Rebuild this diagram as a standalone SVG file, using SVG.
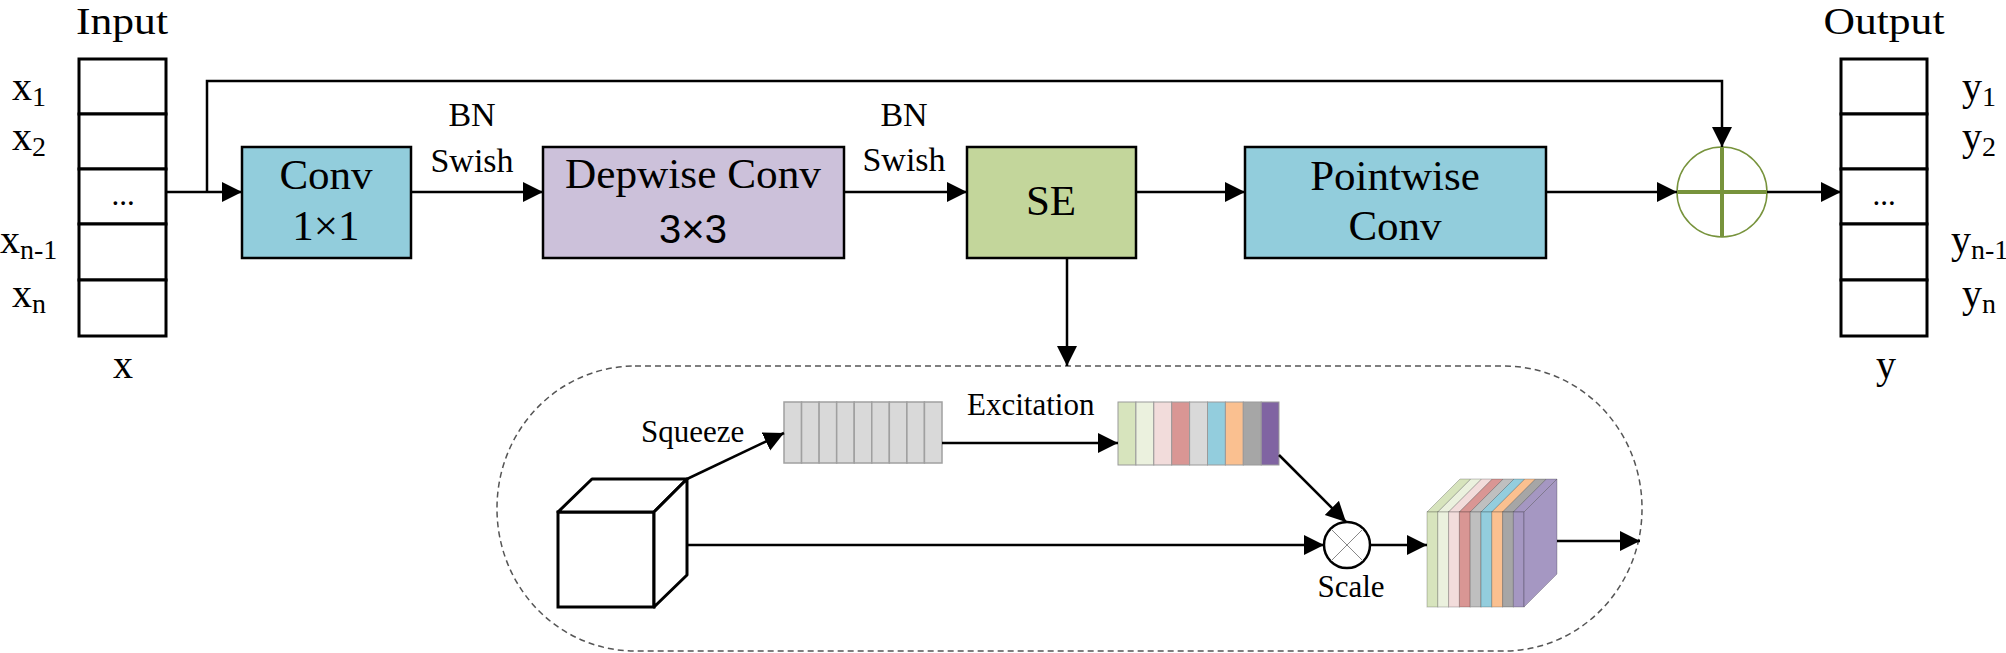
<svg xmlns="http://www.w3.org/2000/svg" width="2006" height="653" viewBox="0 0 2006 653">
<style>
text{font-family:"Liberation Serif","Times New Roman",serif;fill:#000}
.big{font-size:43px}
.top{font-size:38px}
.lbl{font-size:40px}
.sub{font-size:28px}
.mid{font-size:34px}
.sm{font-size:31px}
.box{stroke:#000;stroke-width:2.5}
.cell{fill:#fff;stroke:#000;stroke-width:3}
.ln{fill:none;stroke:#000;stroke-width:2.5}
.gc{fill:#d9d9d9;stroke:#a0a0a0;stroke-width:1.5}
.cc{stroke:#9a9a9a;stroke-width:1}
.sl{stroke:rgba(0,0,0,0.22);stroke-width:1}
</style>
<defs>
<marker id="ah" markerUnits="userSpaceOnUse" markerWidth="22" markerHeight="22" refX="20" refY="10" orient="auto" viewBox="0 0 22 22">
<path d="M0,0 L20,10 L0,20 Z" fill="#000"/>
</marker>
</defs>

<g id="input">
<text class="top" x="122" y="34" text-anchor="middle" textLength="92" lengthAdjust="spacingAndGlyphs">Input</text>
<rect class="cell" x="79" y="59" width="87" height="55"/>
<rect class="cell" x="79" y="114" width="87" height="55"/>
<rect class="cell" x="79" y="169" width="87" height="55"/>
<rect class="cell" x="79" y="224" width="87" height="56"/>
<rect class="cell" x="79" y="280" width="87" height="56"/>
<text class="sm" x="123" y="205" text-anchor="middle">...</text>
<text class="lbl" x="12" y="100">x<tspan class="sub" dy="6">1</tspan></text>
<text class="lbl" x="12" y="150">x<tspan class="sub" dy="6">2</tspan></text>
<text class="lbl" x="0" y="253">x<tspan class="sub" dy="6">n-1</tspan></text>
<text class="lbl" x="12" y="307">x<tspan class="sub" dy="6">n</tspan></text>
<text class="lbl" x="123" y="378" text-anchor="middle">x</text>
</g>

<g id="output">
<text class="top" x="1884" y="34" text-anchor="middle" textLength="121" lengthAdjust="spacingAndGlyphs">Output</text>
<rect class="cell" x="1841" y="59" width="86" height="55"/>
<rect class="cell" x="1841" y="114" width="86" height="55"/>
<rect class="cell" x="1841" y="169" width="86" height="55"/>
<rect class="cell" x="1841" y="224" width="86" height="56"/>
<rect class="cell" x="1841" y="280" width="86" height="56"/>
<text class="sm" x="1884" y="205" text-anchor="middle">...</text>
<text class="lbl" x="1962" y="100">y<tspan class="sub" dy="6">1</tspan></text>
<text class="lbl" x="1962" y="150">y<tspan class="sub" dy="6">2</tspan></text>
<text class="lbl" x="1951" y="253">y<tspan class="sub" dy="6">n-1</tspan></text>
<text class="lbl" x="1962" y="307">y<tspan class="sub" dy="6">n</tspan></text>
<text class="lbl" x="1886" y="378" text-anchor="middle">y</text>
</g>

<g id="conv1x1">
<rect class="box" x="242" y="147" width="169" height="111" fill="#92cddc"/>
<text class="big" x="326" y="189" text-anchor="middle">Conv</text>
<text class="big" x="326" y="240" text-anchor="middle">1×1</text>
</g>

<g id="depwise">
<rect class="box" x="543" y="147" width="301" height="111" fill="#ccc1da"/>
<text class="big" x="693" y="188" text-anchor="middle" textLength="256" lengthAdjust="spacingAndGlyphs">Depwise Conv</text>
<text x="693" y="243" text-anchor="middle" style="font-family:'Liberation Sans',Arial,sans-serif;font-size:40px">3×3</text>
</g>

<g id="se">
<rect class="box" x="967" y="147" width="169" height="111" fill="#c3d69b"/>
<text class="big" x="1051" y="215" text-anchor="middle">SE</text>
</g>

<g id="pointwise">
<rect class="box" x="1245" y="147" width="301" height="111" fill="#92cddc"/>
<text class="big" x="1395" y="190" text-anchor="middle">Pointwise</text>
<text class="big" x="1395" y="240" text-anchor="middle">Conv</text>
</g>

<g id="add">
<circle cx="1722" cy="192" r="45" fill="none" stroke="#77933c" stroke-width="1.5"/>
<line x1="1677" y1="192" x2="1767" y2="192" stroke="#77933c" stroke-width="4"/>
<line x1="1722" y1="147" x2="1722" y2="237" stroke="#77933c" stroke-width="4"/>
</g>

<g id="labels">
<text class="mid" x="472" y="126" text-anchor="middle">BN</text>
<text class="mid" x="472" y="172" text-anchor="middle">Swish</text>
<text class="mid" x="904" y="126" text-anchor="middle">BN</text>
<text class="mid" x="904" y="171" text-anchor="middle">Swish</text>
</g>

<g id="se-module">
<rect x="497" y="366" width="1145" height="285" rx="138" ry="142" fill="none" stroke="#555" stroke-width="1.5" stroke-dasharray="6 4"/>
<g id="cube">
<rect x="558" y="512" width="96" height="95" fill="#fff" stroke="#000" stroke-width="3"/>
<path d="M558,512 L592,479 L687,479 L654,512 Z" fill="#fff" stroke="#000" stroke-width="3" stroke-linejoin="round"/>
<path d="M654,512 L687,479 L687,575 L654,607 Z" fill="#fff" stroke="#000" stroke-width="3" stroke-linejoin="round"/>
</g>
<g id="squeezed">
<rect class="gc" x="784" y="402" width="17.56" height="61"/>
<rect class="gc" x="801.56" y="402" width="17.56" height="61"/>
<rect class="gc" x="819.11" y="402" width="17.56" height="61"/>
<rect class="gc" x="836.67" y="402" width="17.56" height="61"/>
<rect class="gc" x="854.22" y="402" width="17.56" height="61"/>
<rect class="gc" x="871.78" y="402" width="17.56" height="61"/>
<rect class="gc" x="889.33" y="402" width="17.56" height="61"/>
<rect class="gc" x="906.89" y="402" width="17.56" height="61"/>
<rect class="gc" x="924.44" y="402" width="17.56" height="61"/>
</g>
<g id="excited">
<rect class="cc" x="1118" y="402" width="17.9" height="63" fill="#d7e4bd"/>
<rect class="cc" x="1135.9" y="402" width="17.9" height="63" fill="#ebf1de"/>
<rect class="cc" x="1153.8" y="402" width="17.9" height="63" fill="#f2dcdb"/>
<rect class="cc" x="1171.7" y="402" width="17.9" height="63" fill="#d99694"/>
<rect class="cc" x="1189.6" y="402" width="17.9" height="63" fill="#d9d9d9"/>
<rect class="cc" x="1207.5" y="402" width="17.9" height="63" fill="#93cddd"/>
<rect class="cc" x="1225.4" y="402" width="17.9" height="63" fill="#fac090"/>
<rect class="cc" x="1243.3" y="402" width="17.9" height="63" fill="#a6a6a6"/>
<rect class="cc" x="1261.2" y="402" width="17.8" height="63" fill="#8064a2"/>
</g>
<g id="scale">
<circle cx="1347" cy="545" r="23" fill="#fff" stroke="#000" stroke-width="2.5"/>
<line x1="1331" y1="529" x2="1363" y2="561" stroke="#888" stroke-width="1"/>
<line x1="1363" y1="529" x2="1331" y2="561" stroke="#888" stroke-width="1"/>
</g>
<g id="block">
<path class="sl" d="M1427,512 L1460,479 L1470.8,479 L1437.8,512 Z" fill="#d7e4bd"/>
<rect class="sl" x="1427" y="512" width="10.8" height="95" fill="#d7e4bd"/>
<path class="sl" d="M1437.8,512 L1470.8,479 L1481.6,479 L1448.6,512 Z" fill="#ebf1de"/>
<rect class="sl" x="1437.8" y="512" width="10.8" height="95" fill="#ebf1de"/>
<path class="sl" d="M1448.6,512 L1481.6,479 L1492.4,479 L1459.4,512 Z" fill="#f2dcdb"/>
<rect class="sl" x="1448.6" y="512" width="10.8" height="95" fill="#f2dcdb"/>
<path class="sl" d="M1459.4,512 L1492.4,479 L1503.2,479 L1470.2,512 Z" fill="#d99694"/>
<rect class="sl" x="1459.4" y="512" width="10.8" height="95" fill="#d99694"/>
<path class="sl" d="M1470.2,512 L1503.2,479 L1514,479 L1481,512 Z" fill="#bfbfbf"/>
<rect class="sl" x="1470.2" y="512" width="10.8" height="95" fill="#bfbfbf"/>
<path class="sl" d="M1481,512 L1514,479 L1524.8,479 L1491.8,512 Z" fill="#93cddd"/>
<rect class="sl" x="1481" y="512" width="10.8" height="95" fill="#93cddd"/>
<path class="sl" d="M1491.8,512 L1524.8,479 L1535.6,479 L1502.6,512 Z" fill="#fac090"/>
<rect class="sl" x="1491.8" y="512" width="10.8" height="95" fill="#fac090"/>
<path class="sl" d="M1502.6,512 L1535.6,479 L1546.4,479 L1513.4,512 Z" fill="#a6a6a6"/>
<rect class="sl" x="1502.6" y="512" width="10.8" height="95" fill="#a6a6a6"/>
<path class="sl" d="M1513.4,512 L1546.4,479 L1557,479 L1524,512 Z" fill="#a597c2"/>
<rect class="sl" x="1513.4" y="512" width="10.6" height="95" fill="#a597c2"/>
<path class="sl" d="M1524,512 L1557,479 L1557,574 L1524,607 Z" fill="#a597c2"/>
</g>
<text class="sm" x="641" y="442">Squeeze</text>
<text class="sm" x="967" y="415">Excitation</text>
<text class="sm" x="1351" y="597" text-anchor="middle">Scale</text>
</g>

<g id="connectors">
<line class="ln" x1="166" y1="192" x2="242" y2="192" marker-end="url(#ah)"/>
<polyline class="ln" points="207,192 207,81 1722,81 1722,147" marker-end="url(#ah)"/>
<line class="ln" x1="411" y1="192" x2="543" y2="192" marker-end="url(#ah)"/>
<line class="ln" x1="844" y1="192" x2="967" y2="192" marker-end="url(#ah)"/>
<line class="ln" x1="1136" y1="192" x2="1245" y2="192" marker-end="url(#ah)"/>
<line class="ln" x1="1546" y1="192" x2="1677" y2="192" marker-end="url(#ah)"/>
<line class="ln" x1="1767" y1="192" x2="1841" y2="192" marker-end="url(#ah)"/>
<line class="ln" x1="1067" y1="258" x2="1067" y2="366" marker-end="url(#ah)"/>
<line class="ln" x1="687" y1="479" x2="784" y2="433" marker-end="url(#ah)"/>
<line class="ln" x1="942" y1="443" x2="1118" y2="443" marker-end="url(#ah)"/>
<line class="ln" x1="1279" y1="455" x2="1346" y2="522" marker-end="url(#ah)"/>
<line class="ln" x1="687" y1="545" x2="1324" y2="545" marker-end="url(#ah)"/>
<line class="ln" x1="1370" y1="545" x2="1427" y2="545" marker-end="url(#ah)"/>
<line class="ln" x1="1557" y1="541" x2="1640" y2="541" marker-end="url(#ah)"/>
</g>
</svg>
